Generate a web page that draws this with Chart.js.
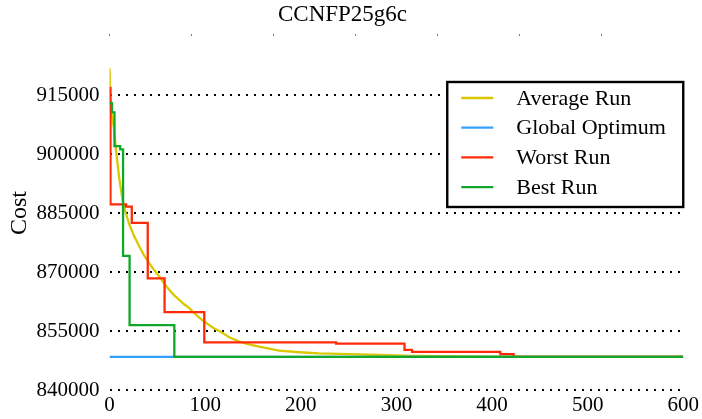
<!DOCTYPE html>
<html>
<head>
<meta charset="utf-8">
<script src="https://cdn.jsdelivr.net/npm/chart.js@4/dist/chart.umd.min.js"></script>
<style>
  html, body { margin: 0; padding: 0; background: #fff; }
  #wrap { width: 702px; height: 419px; }
</style>
</head>
<body>
<div id="wrap"><canvas id="costchart"></canvas></div>
<script>
// values
const chartTitle = 'CCNFP25g6c';
const yTitle = 'Cost';
const seriesNames = ['Average Run', 'Global Optimum', 'Worst Run', 'Best Run'];
const seriesColors = ['#d9c800', '#33a0ff', '#ff2a0a', '#10a82a'];

const avgX = [0, 0.7, 2, 4.5, 7, 10.4, 13.9, 17, 20.9, 26, 31.3, 36, 41.7, 47, 52.2, 57, 62.6, 68, 73, 78,
    83.5, 88, 93.9, 99, 104.4, 109, 114.8, 120, 125.2, 135.7, 146, 156.5, 167, 177.4, 198.3, 219, 250, 282,
    316, 350, 400, 450, 600];
const avgY = [921800, 915000, 910500, 906900, 900500, 893400, 888000, 885000, 882000, 879000, 876400, 874300,
    872200, 870400, 868800, 867100, 865400, 864000, 862900, 861800, 860800, 859700, 858400, 857400, 856500,
    855700, 855000, 854200, 853400, 852300, 851600, 851000, 850500, 850000, 849600, 849300, 849100, 848900,
    848700, 848600, 848500, 848500, 848500];

const optX = [0, 600];
const optY = [848400, 848400];

const worstX = [0, 1, 17.4, 23.3, 40, 57.6, 99.1, 237, 308.5, 316.4, 408.7, 422.6, 600];
const worstY = [916800, 887200, 886600, 882500, 868400, 859800, 852100, 851800, 850200, 849700, 849100, 848400, 848400];

const bestX = [0, 2.6, 5.2, 11.2, 14.2, 21, 67.8, 600];
const bestY = [912900, 910600, 902000, 901200, 874100, 856500, 848400, 848400];

const xTicks = [0, 100, 200, 300, 400, 500, 600];
const yTicks = [840000, 855000, 870000, 885000, 900000, 915000];

const serif = 'Liberation Serif';

function pts(xs, ys) {
    return xs.map((x, i) => ({ x: x, y: ys[i] }));
}

// legend box drawn inside the plot, top right
const boxLegend = {
    id: 'boxLegend',
    afterDraw(chart) {
        const ctx = chart.ctx;
        const area = chart.chartArea;
        const w = 236, h = 125;
        const left = area.right - w;
        const top = area.top + 46;
        ctx.save();
        ctx.fillStyle = '#fff';
        ctx.fillRect(left, top, w, h);
        ctx.strokeStyle = '#000';
        ctx.lineWidth = 2.4;
        ctx.strokeRect(left, top, w, h);
        ctx.font = '22px "' + serif + '"';
        ctx.textBaseline = 'middle';
        ctx.fillStyle = '#000';
        chart.data.datasets.forEach((ds, i) => {
            const y = top + 16 + i * 29.7;
            ctx.strokeStyle = ds.borderColor;
            ctx.lineWidth = 2.3;
            ctx.beginPath();
            ctx.moveTo(left + 14, y);
            ctx.lineTo(left + 46, y);
            ctx.stroke();
            ctx.fillText(ds.label, left + 69, y + 1);
        });
        ctx.restore();
    }
};

new Chart(document.getElementById('costchart'), {
    type: 'line',
    data: {
        datasets: [
            { label: seriesNames[0], data: pts(avgX, avgY), borderColor: seriesColors[0], order: 3 },
            { label: seriesNames[1], data: pts(optX, optY), borderColor: seriesColors[1], order: 2 },
            { label: seriesNames[2], data: pts(worstX, worstY), borderColor: seriesColors[2], order: 1, stepped: true },
            { label: seriesNames[3], data: pts(bestX, bestY), borderColor: seriesColors[3], order: 0, stepped: true }
        ]
    },
    options: {
        responsive: true,
        maintainAspectRatio: false,
        animation: false,
        layout: { padding: { left: 0, right: 17, top: 0, bottom: 0 } },
        elements: {
            point: { radius: 0 },
            line: { borderWidth: 2.3, tension: 0, fill: false }
        },
        plugins: {
            legend: { display: false },
            tooltip: { enabled: false },
            title: {
                display: true,
                text: chartTitle,
                color: '#000',
                font: { family: serif, size: 23, weight: 'normal' },
                padding: { top: 1, bottom: 7.4 }
            }
        },
        scales: {
            x: {
                type: 'linear',
                min: 0,
                max: 600,
                afterBuildTicks: (s) => { s.ticks = xTicks.map(v => ({ value: v })); },
                afterFit: (s) => { s.height = 29; },
                grid: { display: false, drawTicks: false },
                border: { display: false },
                ticks: {
                    color: '#000',
                    padding: 3,
                    maxRotation: 0,
                    font: { family: serif, size: 21 }
                }
            },
            x2: {
                type: 'linear',
                position: 'top',
                min: 0,
                max: 7,
                afterBuildTicks: (s) => { s.ticks = [0, 1, 2, 3, 4, 5, 6].map(v => ({ value: v })); },
                afterFit: (s) => { s.height = 0; },
                grid: { drawOnChartArea: false, drawTicks: true, tickLength: 2, color: '#777' },
                border: { display: false },
                ticks: { display: false }
            },
            y: {
                min: 840000,
                max: 930000,
                afterBuildTicks: (s) => { s.ticks = yTicks.map(v => ({ value: v })); },
                afterFit: (s) => { s.width = 109.5; },
                border: { display: false, dash: [2, 6] },
                grid: { color: '#000', lineWidth: 2, drawTicks: false },
                title: {
                    display: true,
                    text: yTitle,
                    color: '#000',
                    font: { family: serif, size: 24 },
                    padding: { top: 5, bottom: 0 }
                },
                ticks: {
                    color: '#000',
                    padding: 10,
                    font: { family: serif, size: 21 },
                    callback: (v) => String(v)
                }
            }
        }
    },
    plugins: [boxLegend]
});
</script>
</body>
</html>
